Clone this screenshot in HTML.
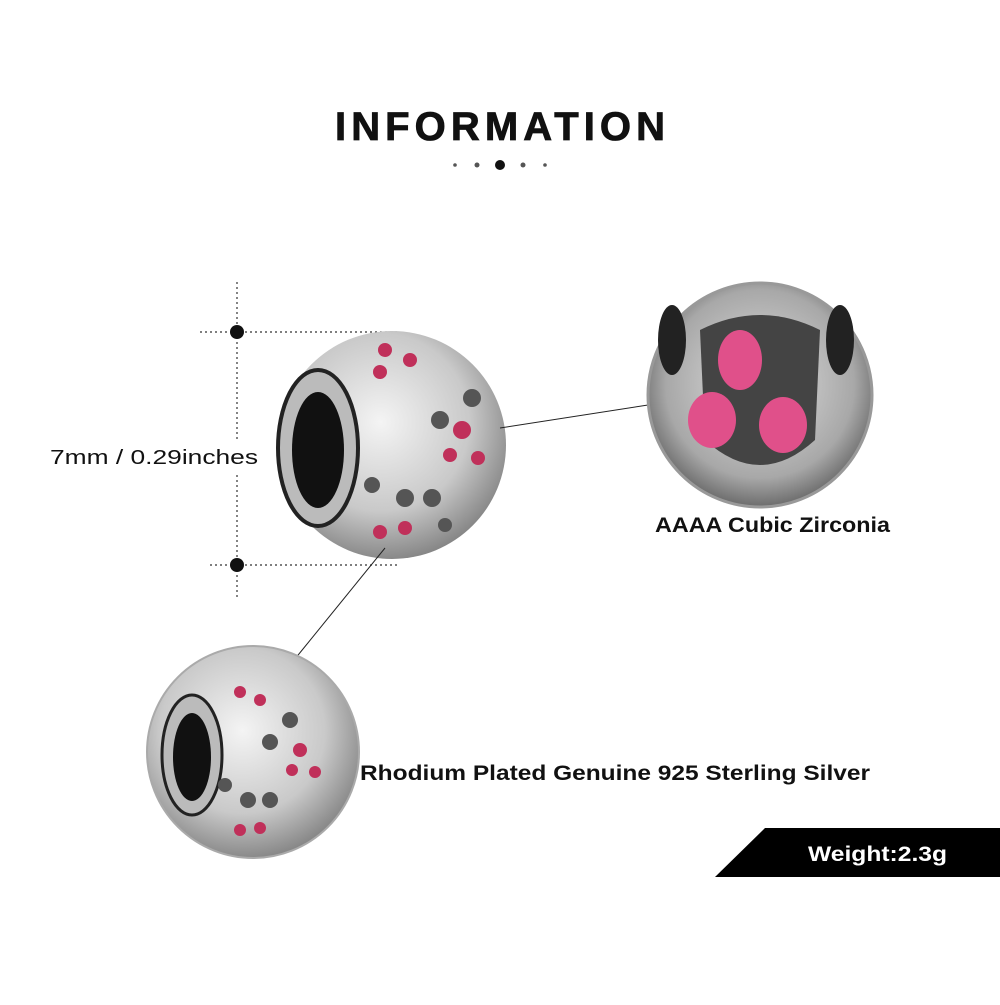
<!DOCTYPE html>
<html><head><style>
body{margin:0;width:1000px;height:1000px;background:#fff;overflow:hidden;font-family:"Liberation Sans",Arial,sans-serif}
</style></head><body>
<svg width="1000" height="1000" viewBox="0 0 1000 1000" xmlns="http://www.w3.org/2000/svg">
<defs>
<radialGradient id="s" cx="45%" cy="40%" r="65%">
<stop offset="0" stop-color="#f4f4f4"/><stop offset="0.6" stop-color="#c9c9c9"/><stop offset="1" stop-color="#7a7a7a"/></radialGradient>
<radialGradient id="z" cx="50%" cy="45%" r="60%">
<stop offset="0" stop-color="#e0e0e0"/><stop offset="0.7" stop-color="#a8a8a8"/><stop offset="1" stop-color="#555"/></radialGradient>
</defs>
<text x="335" y="140" font-size="40" font-weight="bold" textLength="330" lengthAdjust="spacing" fill="#111" stroke="#111" stroke-width="0.8">INFORMATION</text>
<circle cx="455" cy="165" r="1.8" fill="#555"/><circle cx="477" cy="165" r="2.5" fill="#555"/><circle cx="500" cy="165" r="5" fill="#111"/><circle cx="523" cy="165" r="2.5" fill="#555"/><circle cx="545" cy="165" r="1.8" fill="#555"/>
<g stroke="#333" stroke-width="1.2" stroke-dasharray="2,3" fill="none">
<line x1="237" y1="282" x2="237" y2="440"/><line x1="237" y1="475" x2="237" y2="598"/>
<line x1="200" y1="332" x2="400" y2="332"/><line x1="210" y1="565" x2="400" y2="565"/>
</g>
<circle cx="237" cy="332" r="7" fill="#111"/><circle cx="237" cy="565" r="7" fill="#111"/>
<text x="50" y="464" font-size="20" textLength="208" lengthAdjust="spacingAndGlyphs" fill="#111">7mm / 0.29inches</text>
<circle cx="392" cy="445" r="114" fill="url(#s)"/>
<ellipse cx="318" cy="448" rx="40" ry="78" fill="#bbb" stroke="#222" stroke-width="4"/>
<ellipse cx="318" cy="450" rx="26" ry="58" fill="#111"/>
<g fill="#555"><circle cx="440" cy="420" r="9"/><circle cx="472" cy="398" r="9"/><circle cx="432" cy="498" r="9"/><circle cx="405" cy="498" r="9"/><circle cx="372" cy="485" r="8"/><circle cx="445" cy="525" r="7"/></g>
<g fill="#c0305a"><circle cx="462" cy="430" r="9"/><circle cx="450" cy="455" r="7"/><circle cx="478" cy="458" r="7"/><circle cx="385" cy="350" r="7"/><circle cx="410" cy="360" r="7"/><circle cx="380" cy="372" r="7"/><circle cx="380" cy="532" r="7"/><circle cx="405" cy="528" r="7"/></g>
<line x1="500" y1="428" x2="648" y2="405" stroke="#222" stroke-width="1"/>
<line x1="385" y1="548" x2="290" y2="665" stroke="#222" stroke-width="1"/>
<circle cx="760" cy="395" r="112" fill="url(#z)" stroke="#999" stroke-width="3"/>
<ellipse cx="672" cy="340" rx="14" ry="35" fill="#222"/><ellipse cx="840" cy="340" rx="14" ry="35" fill="#222"/>
<path d="M700 330 Q760 300 820 330 L815 440 Q760 490 705 440Z" fill="#444"/>
<ellipse cx="740" cy="360" rx="22" ry="30" fill="#e0508a"/>
<ellipse cx="712" cy="420" rx="24" ry="28" fill="#e0508a"/>
<ellipse cx="783" cy="425" rx="24" ry="28" fill="#e0508a"/>
<text x="655" y="532" font-size="21" font-weight="bold" textLength="235" lengthAdjust="spacingAndGlyphs" fill="#111">AAAA Cubic Zirconia</text>
<circle cx="253" cy="752" r="106" fill="url(#s)" stroke="#aaa" stroke-width="2"/>
<ellipse cx="192" cy="755" rx="30" ry="60" fill="#bbb" stroke="#222" stroke-width="3"/>
<ellipse cx="192" cy="757" rx="19" ry="44" fill="#111"/>
<g fill="#555"><circle cx="270" cy="742" r="8"/><circle cx="290" cy="720" r="8"/><circle cx="270" cy="800" r="8"/><circle cx="248" cy="800" r="8"/><circle cx="225" cy="785" r="7"/></g>
<g fill="#c0305a"><circle cx="300" cy="750" r="7"/><circle cx="292" cy="770" r="6"/><circle cx="315" cy="772" r="6"/><circle cx="240" cy="692" r="6"/><circle cx="260" cy="700" r="6"/><circle cx="240" cy="830" r="6"/><circle cx="260" cy="828" r="6"/></g>
<text x="360" y="780" font-size="21" font-weight="bold" textLength="510" lengthAdjust="spacingAndGlyphs" fill="#111">Rhodium Plated Genuine 925 Sterling Silver</text>
<polygon points="765,828 1000,828 1000,877 715,877" fill="#000"/>
<text x="808" y="861" font-size="21" font-weight="bold" textLength="139" lengthAdjust="spacingAndGlyphs" fill="#fff">Weight:2.3g</text>
</svg>
</body></html>
